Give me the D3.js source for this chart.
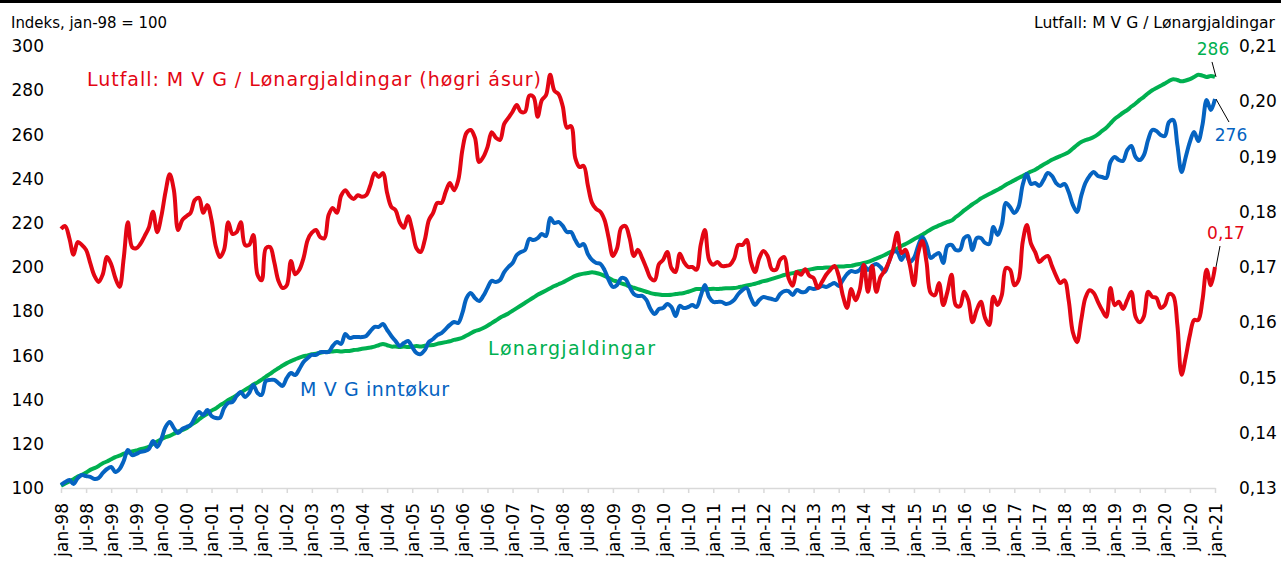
<!DOCTYPE html>
<html>
<head>
<meta charset="utf-8">
<script src="https://cdn.jsdelivr.net/npm/d3@7"></script>
<style>
    body { margin: 0; background: #fff; }
    svg text { font-family: 'DejaVu Sans', Verdana, sans-serif; }
</style>
</head>
<body>
<div id="chart"></div>
<script>
// x axis labels, one every 6 months starting jan-98
const tickLabels = ['jan-98', 'jul-98', 'jan-99', 'jul-99', 'jan-00', 'jul-00', 'jan-01', 'jul-01',
    'jan-02', 'jul-02', 'jan-03', 'jul-03', 'jan-04', 'jul-04', 'jan-05', 'jul-05', 'jan-06', 'jul-06',
    'jan-07', 'jul-07', 'jan-08', 'jul-08', 'jan-09', 'jul-09', 'jan-10', 'jul-10', 'jan-11', 'jul-11',
    'jan-12', 'jul-12', 'jan-13', 'jul-13', 'jan-14', 'jul-14', 'jan-15', 'jul-15', 'jan-16', 'jul-16',
    'jan-17', 'jul-17', 'jan-18', 'jul-18', 'jan-19', 'jul-19', 'jan-20', 'jul-20', 'jan-21'];
const leftTicks = [100, 120, 140, 160, 180, 200, 220, 240, 260, 280, 300];
const rightTicks = [0.13, 0.14, 0.15, 0.16, 0.17, 0.18, 0.19, 0.20, 0.21];

// monthly, jan-98 .. jan-21
const mvgValues = [
    101.4, 102.7, 103.6, 101.8, 104.5, 105.9, 105.4, 105.0, 104.1, 104.5,
    106.8, 108.6, 109.5, 107.2, 108.6, 112.2, 117.2, 114.9, 115.4, 116.3,
    116.7, 117.6, 121.3, 118.6, 122.2, 127.6, 129.9, 127.1, 124.9, 126.7,
    127.6, 128.5, 131.7, 134.4, 133.0, 135.3, 132.6, 131.7, 131.7, 136.2,
    138.5, 138.9, 141.6, 143.4, 141.2, 143.0, 146.6, 143.0, 142.1, 148.4,
    148.9, 148.9, 147.5, 146.2, 149.8, 152.0, 151.1, 153.8, 157.0, 158.8,
    160.2, 160.2, 161.5, 161.5, 161.5, 164.3, 166.1, 165.2, 169.7, 167.9,
    168.3, 168.3, 168.3, 168.8, 171.0, 172.9, 172.9, 174.2, 171.5, 168.8,
    166.5, 164.3, 165.6, 166.5, 163.8, 161.1, 160.6, 162.4, 166.1, 167.4,
    169.2, 170.1, 171.9, 173.8, 175.1, 174.7, 179.2, 186.0, 188.2, 186.0,
    184.6, 186.9, 190.5, 193.7, 193.2, 194.1, 197.7, 200.0, 201.8, 205.4,
    206.8, 207.7, 212.7, 212.2, 213.1, 214.9, 214.0, 222.2, 219.9, 220.4,
    218.6, 215.8, 215.8, 212.2, 209.5, 210.4, 205.9, 203.2, 201.8, 201.4,
    198.6, 194.1, 191.0, 191.9, 195.0, 194.6, 191.0, 187.8, 186.9, 186.9,
    185.1, 181.0, 178.7, 181.0, 181.4, 183.3, 181.9, 177.8, 182.4, 181.4,
    181.9, 182.8, 181.9, 186.9, 191.9, 186.4, 184.2, 184.2, 184.2, 183.3,
    183.7, 185.1, 187.8, 189.6, 190.5, 186.0, 182.8, 185.1, 186.4, 186.0,
    185.5, 185.1, 187.8, 189.1, 189.1, 187.3, 189.6, 188.7, 188.7, 190.5,
    190.0, 190.5, 191.4, 191.0, 191.9, 192.8, 191.4, 194.1, 196.8, 198.2,
    197.7, 198.6, 200.9, 198.6, 200.5, 201.4, 200.0, 197.7, 202.3, 206.8,
    206.8, 203.2, 206.3, 202.3, 204.1, 209.5, 213.6, 210.0, 204.1, 205.4,
    206.3, 201.8, 209.5, 210.0, 207.7, 207.7, 213.1, 214.0, 207.7, 213.1,
    213.1, 210.9, 210.4, 218.1, 214.5, 219.0, 229.0, 227.1, 224.4, 227.1,
    237.1, 242.1, 237.6, 238.0, 236.7, 239.4, 242.5, 241.2, 238.0, 236.7,
    237.6, 233.9, 228.1, 224.9, 232.1, 238.0, 241.2, 243.0, 241.2, 240.7,
    240.3, 247.5, 249.8, 248.4, 248.0, 252.9, 254.8, 249.8, 248.4, 250.7,
    257.5, 262.0, 261.5, 259.7, 259.3, 265.6, 266.5, 255.2, 243.0, 249.8,
    256.6, 261.1, 257.0, 264.3, 275.6, 271.0, 276.0
];

const wageValues = [
    101.0, 102.0, 103.0, 104.0, 105.2, 106.0, 107.0, 108.2, 109.0, 110.0,
    111.2, 112.0, 113.0, 114.0, 114.6, 115.5, 116.0, 116.6, 117.0, 117.6,
    118.0, 118.6, 120.0, 121.0, 122.0, 123.0, 123.6, 124.5, 125.6, 126.2,
    127.0, 128.4, 129.6, 131.0, 132.4, 133.6, 135.0, 136.0, 137.4, 138.5,
    139.8, 140.8, 142.0, 143.2, 144.4, 145.5, 146.8, 147.8, 149.0, 150.4,
    151.6, 153.0, 154.2, 155.4, 156.5, 157.4, 158.2, 159.0, 159.6, 160.0,
    160.5, 160.8, 161.2, 161.5, 161.6, 161.8, 162.0, 161.8, 162.0, 162.0,
    162.4, 162.6, 163.0, 163.2, 163.6, 164.0, 164.6, 165.2, 164.6, 164.0,
    164.0, 163.8, 164.0, 163.8, 164.0, 164.2, 164.0, 164.4, 164.6, 164.7,
    165.2, 165.6, 166.0, 166.4, 167.0, 167.4, 168.0, 169.0, 170.0, 171.0,
    171.6, 172.4, 173.4, 174.6, 175.8, 177.0, 178.0, 179.0, 180.2, 181.4,
    182.6, 183.8, 185.0, 186.2, 187.4, 188.4, 189.4, 190.4, 191.4, 192.2,
    193.0, 194.0, 195.0, 196.0, 196.6, 197.0, 197.3, 197.6, 197.3, 196.8,
    196.0, 195.0, 194.0, 193.4, 192.6, 192.0, 191.2, 190.6, 190.0, 189.4,
    188.8, 188.2, 187.8, 187.6, 187.3, 187.3, 187.4, 187.8, 188.0, 188.2,
    188.8, 189.4, 190.0, 190.0, 189.8, 190.0, 190.2, 190.0, 190.2, 190.4,
    190.4, 190.5, 190.8, 191.2, 191.6, 192.0, 192.4, 193.0, 193.6, 194.0,
    194.6, 195.2, 195.8, 196.4, 196.8, 197.2, 197.8, 198.2, 198.6, 198.8,
    199.2, 199.5, 199.6, 199.8, 199.8, 200.0, 200.2, 200.2, 200.4, 200.5,
    201.0, 201.4, 201.8, 202.3, 203.0, 203.8, 204.6, 205.4, 206.4, 207.4,
    208.4, 209.5, 210.4, 211.4, 212.6, 213.6, 214.6, 215.8, 217.0, 218.0,
    218.8, 219.6, 220.4, 221.0, 222.6, 224.0, 225.6, 227.0, 228.4, 229.6,
    231.0, 232.0, 233.0, 234.0, 235.0, 236.0, 237.2, 238.2, 239.2, 240.3,
    241.2, 242.2, 243.2, 244.0, 245.2, 246.4, 247.4, 248.5, 249.4, 250.2,
    251.0, 252.0, 253.6, 255.2, 256.6, 257.4, 258.0, 258.8, 260.0, 261.6,
    263.0, 265.0, 267.0, 268.4, 269.8, 271.0, 272.6, 274.0, 275.6, 277.0,
    278.6, 280.0, 281.0, 282.0, 283.0, 284.2, 285.0, 284.6, 284.0, 284.4,
    285.0, 286.0, 287.0, 286.6, 286.0, 286.4, 286.0
];

const ratioValues = [
    0.1769, 0.1774, 0.1752, 0.1722, 0.1745, 0.1740, 0.1731, 0.1707, 0.1684, 0.1673,
    0.1687, 0.1718, 0.1705, 0.1680, 0.1664, 0.1716, 0.1781, 0.1736, 0.1734, 0.1742,
    0.1756, 0.1771, 0.1800, 0.1763, 0.1792, 0.1836, 0.1868, 0.1839, 0.1767, 0.1785,
    0.1792, 0.1798, 0.1821, 0.1825, 0.1798, 0.1812, 0.1785, 0.1738, 0.1718, 0.1731,
    0.1781, 0.1760, 0.1763, 0.1781, 0.1740, 0.1740, 0.1758, 0.1686, 0.1676, 0.1734,
    0.1736, 0.1709, 0.1675, 0.1662, 0.1667, 0.1711, 0.1687, 0.1695, 0.1716, 0.1749,
    0.1762, 0.1767, 0.1754, 0.1752, 0.1794, 0.1807, 0.1798, 0.1829, 0.1839, 0.1829,
    0.1823, 0.1830, 0.1827, 0.1830, 0.1848, 0.1870, 0.1863, 0.1870, 0.1834, 0.1809,
    0.1803, 0.1781, 0.1771, 0.1792, 0.1767, 0.1734, 0.1727, 0.1749, 0.1785, 0.1798,
    0.1816, 0.1816, 0.1836, 0.1852, 0.1839, 0.1857, 0.1912, 0.1943, 0.1948, 0.1934,
    0.1890, 0.1899, 0.1917, 0.1944, 0.1934, 0.1930, 0.1959, 0.1970, 0.1981, 0.1993,
    0.1981, 0.1981, 0.2010, 0.2008, 0.1972, 0.2002, 0.2011, 0.2048, 0.2019, 0.2013,
    0.1991, 0.1952, 0.1955, 0.1897, 0.1881, 0.1883, 0.1848, 0.1816, 0.1805, 0.1800,
    0.1785, 0.1752, 0.1720, 0.1734, 0.1771, 0.1774, 0.1752, 0.1720, 0.1731, 0.1716,
    0.1698, 0.1680, 0.1676, 0.1705, 0.1713, 0.1727, 0.1698, 0.1691, 0.1724, 0.1709,
    0.1700, 0.1700, 0.1695, 0.1740, 0.1767, 0.1713, 0.1704, 0.1709, 0.1702, 0.1702,
    0.1704, 0.1715, 0.1740, 0.1740, 0.1749, 0.1709, 0.1691, 0.1716, 0.1729, 0.1720,
    0.1696, 0.1695, 0.1713, 0.1718, 0.1680, 0.1666, 0.1691, 0.1686, 0.1696, 0.1684,
    0.1680, 0.1662, 0.1673, 0.1686, 0.1695, 0.1702, 0.1684, 0.1648, 0.1626, 0.1660,
    0.1640, 0.1658, 0.1704, 0.1655, 0.1702, 0.1655, 0.1682, 0.1693, 0.1709, 0.1731,
    0.1762, 0.1725, 0.1731, 0.1704, 0.1667, 0.1725, 0.1747, 0.1709, 0.1653, 0.1649,
    0.1671, 0.1631, 0.1655, 0.1686, 0.1631, 0.1629, 0.1655, 0.1640, 0.1600, 0.1622,
    0.1637, 0.1608, 0.1595, 0.1646, 0.1631, 0.1649, 0.1698, 0.1695, 0.1667, 0.1676,
    0.1745, 0.1776, 0.1742, 0.1727, 0.1709, 0.1716, 0.1720, 0.1702, 0.1684, 0.1671,
    0.1676, 0.1640, 0.1582, 0.1564, 0.1604, 0.1644, 0.1658, 0.1653, 0.1637, 0.1622,
    0.1610, 0.1662, 0.1631, 0.1637, 0.1624, 0.1640, 0.1655, 0.1610, 0.1600, 0.1611,
    0.1655, 0.1646, 0.1644, 0.1626, 0.1631, 0.1651, 0.1648, 0.1595, 0.1505, 0.1537,
    0.1577, 0.1604, 0.1604, 0.1640, 0.1695, 0.1667, 0.1700
];

function IndexChart() {
    let vis = this;
    vis.init();
}

IndexChart.prototype.init = function() {
    let vis = this;
    vis.svgWidth = 1281;
    vis.svgHeight = 562;
    vis.left = 61;
    vis.right = 1215;
    vis.top = 46;
    vis.bottom = 488;

    vis.svg = d3.select('#chart').append('svg')
        .attr('width', vis.svgWidth)
        .attr('height', vis.svgHeight);

    // black rule along the top edge
    vis.svg.append('rect')
        .attr('x', 0).attr('y', 0)
        .attr('width', vis.svgWidth).attr('height', 3)
        .attr('fill', '#000');

    vis.x = d3.scaleLinear()
        .domain([0, mvgValues.length - 1])
        .range([vis.left, vis.right]);

    vis.y = d3.scaleLinear()
        .domain([100, 300])
        .range([vis.bottom, vis.top]);

    vis.y2 = d3.scaleLinear()
        .domain([0.13, 0.21])
        .range([vis.bottom, vis.top]);

    vis.drawAxes();
    vis.drawLines();
    vis.drawLabels();
}

IndexChart.prototype.drawAxes = function() {
    let vis = this;

    let xAxis = d3.axisBottom(vis.x)
        .tickValues(tickLabels.map((d, i) => i * 6))
        .tickFormat((d, i) => tickLabels[i])
        .tickSize(5)
        .tickSizeOuter(0);

    let gx = vis.svg.append('g')
        .attr('transform', 'translate(0,' + vis.bottom + ')')
        .call(xAxis);
    gx.select('.domain').attr('stroke', '#d9d9d9').attr('stroke-width', 1.5);
    gx.selectAll('.tick line').attr('stroke', '#d9d9d9').attr('stroke-width', 1.5);
    gx.selectAll('.tick text')
        .attr('font-size', 17)
        .attr('fill', '#000')
        .attr('text-anchor', 'end')
        .attr('transform', 'rotate(-90)')
        .attr('x', -15)
        .attr('y', 0)
        .attr('dy', '0.36em');

    // left axis, labels only
    vis.svg.append('g').selectAll('text')
        .data(leftTicks)
        .enter()
        .append('text')
        .text(d => d)
        .attr('x', 44)
        .attr('y', d => vis.y(d))
        .attr('dy', '0.36em')
        .attr('text-anchor', 'end')
        .attr('font-size', 17)
        .attr('fill', '#000');

    // right axis, labels only
    vis.svg.append('g').selectAll('text')
        .data(rightTicks)
        .enter()
        .append('text')
        .text(d => d3.format('.2f')(d).replace('.', ','))
        .attr('x', 1239)
        .attr('y', d => vis.y2(d))
        .attr('dy', '0.36em')
        .attr('font-size', 17)
        .attr('fill', '#000');

    vis.svg.append('text')
        .text('Indeks, jan-98 = 100')
        .attr('x', 11)
        .attr('y', 28)
        .attr('font-size', 16)
        .attr('textLength', 156)
        .attr('lengthAdjust', 'spacingAndGlyphs')
        .attr('fill', '#000');

    vis.svg.append('text')
        .text('Lutfall: M V G / Lønargjaldingar')
        .attr('x', 1034)
        .attr('y', 28)
        .attr('font-size', 16)
        .attr('textLength', 241)
        .attr('lengthAdjust', 'spacingAndGlyphs')
        .attr('fill', '#000');
}

IndexChart.prototype.drawLines = function() {
    let vis = this;

    let line = d3.line()
        .x((d, i) => vis.x(i))
        .y(d => vis.y(d))
        .curve(d3.curveCatmullRom);

    let line2 = d3.line()
        .x((d, i) => vis.x(i))
        .y(d => vis.y2(d))
        .curve(d3.curveCatmullRom);

    vis.svg.append('path')
        .datum(wageValues)
        .attr('d', line)
        .attr('fill', 'none')
        .attr('stroke', '#00b050')
        .attr('stroke-width', 4);

    vis.svg.append('path')
        .datum(mvgValues)
        .attr('d', line)
        .attr('fill', 'none')
        .attr('stroke', '#0563c1')
        .attr('stroke-width', 4);

    vis.svg.append('path')
        .datum(ratioValues)
        .attr('d', line2)
        .attr('fill', 'none')
        .attr('stroke', '#e30613')
        .attr('stroke-width', 4);
}

IndexChart.prototype.drawLabels = function() {
    let vis = this;
    let last = mvgValues.length - 1;

    let series = [
        { text: 'Lutfall: M V G / Lønargjaldingar (høgri ásur)', x: 87, y: 86, len: 454, color: '#e30613' },
        { text: 'Lønargjaldingar', x: 488, y: 355, len: 167, color: '#00b050' },
        { text: 'M V G inntøkur', x: 300, y: 396, len: 149, color: '#0563c1' }
    ];

    vis.svg.selectAll('.series-label')
        .data(series)
        .enter()
        .append('text')
        .attr('class', 'series-label')
        .text(d => d.text)
        .attr('x', d => d.x)
        .attr('y', d => d.y)
        .attr('font-size', 19)
        .attr('textLength', d => d.len)
        .attr('lengthAdjust', 'spacing')
        .attr('fill', d => d.color);

    // end value callouts
    let ends = [
        { text: wageValues[last], px: vis.x(last), py: vis.y(wageValues[last]), dx: -4, dy: -15, tx: -2, ty: -22, color: '#00b050' },
        { text: mvgValues[last], px: vis.x(last), py: vis.y(mvgValues[last]), dx: 13, dy: 23, tx: 16, ty: 42, color: '#0563c1' },
        { text: d3.format('.2f')(ratioValues[last]).replace('.', ','), px: vis.x(last), py: vis.y2(ratioValues[last]), dx: 4, dy: -21, tx: 11, ty: -28, color: '#e30613' }
    ];

    vis.svg.selectAll('.end-line')
        .data(ends)
        .enter()
        .append('line')
        .attr('x1', d => d.px + 1)
        .attr('y1', d => d.py)
        .attr('x2', d => d.px + 1 + d.dx)
        .attr('y2', d => d.py + d.dy)
        .attr('stroke', '#000')
        .attr('stroke-width', 1);

    vis.svg.selectAll('.end-text')
        .data(ends)
        .enter()
        .append('text')
        .text(d => d.text)
        .attr('x', d => d.px + d.tx)
        .attr('y', d => d.py + d.ty)
        .attr('text-anchor', 'middle')
        .attr('font-size', 17)
        .attr('fill', d => d.color);
}

new IndexChart();
</script>
</body>
</html>
